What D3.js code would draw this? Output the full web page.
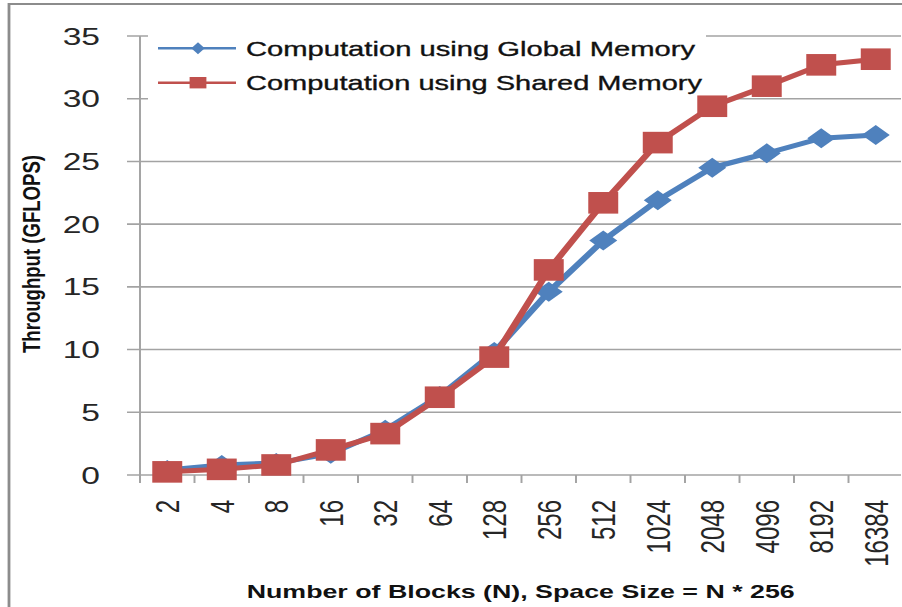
<!DOCTYPE html>
<html>
<head>
<meta charset="utf-8">
<script src="https://cdn.jsdelivr.net/npm/d3@7"></script>
<style>
body { margin:0; background:#fff; }
text { font-family:"Liberation Sans", Arial, sans-serif; }
</style>
</head>
<body>
<div id="chart"></div>
<script>
var blocks = ['2','4','8','16','32','64','128','256','512','1024','2048','4096','8192','16384']
var globalMem = [0.4,0.8,0.95,1.7,3.6,6.3,9.8,14.6,18.7,21.9,24.5,25.65,26.85,27.1]
var sharedMem = [0.25,0.45,0.8,2.0,3.3,6.2,9.4,16.35,21.7,26.5,29.4,31.0,32.7,33.15]
var yTicks = [0,5,10,15,20,25,30,35]
var seriesNames = ['Computation using Global Memory','Computation using Shared Memory']
var colors = ['#4f81bd','#c0504d']

var W = 902, H = 607
var sx = 1.4   // the whole picture is stretched sideways
var svg = d3.select('#chart').append('svg')
            .attr('width', W)
            .attr('height', H)
svg.append('rect').attr('width',W).attr('height',H).attr('fill','#fff')
var g = svg.append('g').attr('transform','scale('+sx+',1)')

var x = d3.scaleBand().domain(blocks).range([140/sx, 903/sx])
var y = d3.scaleLinear().domain([0,35]).range([475,36])
var bw = x.bandwidth()
var cx = d => x(d) + bw/2

// chart border (only left and top are in the picture)
g.append('rect')
 .attr('x',9/sx).attr('y',4).attr('width',2000).attr('height',2000)
 .attr('fill','none').attr('stroke','#8c8c8c').attr('stroke-width',2)

// gridlines
g.append('g').selectAll('line').data(yTicks).join('line')
 .attr('x1',127/sx).attr('x2',901/sx)
 .attr('y1',d=>y(d)).attr('y2',d=>y(d))
 .attr('stroke','#a3a3a3').attr('stroke-width',1.6)

// y axis line and x ticks
g.append('line')
 .attr('x1',x.range()[0]).attr('x2',x.range()[0])
 .attr('y1',y(35)).attr('y2',y(0)+8)
 .attr('stroke','#a3a3a3').attr('stroke-width',1.4)
g.append('g').selectAll('line').data(d3.range(blocks.length+1)).join('line')
 .attr('x1',i=>x.range()[0]+i*x.step()).attr('x2',i=>x.range()[0]+i*x.step())
 .attr('y1',y(0)).attr('y2',y(0)+8)
 .attr('stroke','#a3a3a3').attr('stroke-width',1.4)

// y tick labels
g.append('g').selectAll('text').data(yTicks).join('text')
 .attr('x',100/sx).attr('y',d=>y(d)).attr('dy','0.36em')
 .attr('text-anchor','end').attr('font-size',24).attr('fill','#262626')
 .text(d=>d)

// x tick labels
g.append('g').selectAll('text').data(blocks).join('text')
 .attr('transform',d=>'translate('+cx(d)+',500) rotate(-90)')
 .attr('dy','0.36em')
 .attr('text-anchor','end').attr('font-size',24).attr('fill','#262626')
 .text(d=>d)

// axis titles
g.append('text')
 .attr('transform','translate('+(40/sx)+',254) rotate(-90)')
 .attr('text-anchor','middle').attr('font-size',16.5).attr('font-weight','bold')
 .attr('textLength',198).attr('lengthAdjust','spacingAndGlyphs')
 .attr('fill','#111')
 .text('Throughput (GFLOPS)')
g.append('text')
 .attr('x',246.7/sx).attr('y',598.3)
 .attr('font-size',18.5).attr('font-weight','bold')
 .attr('textLength',548/sx).attr('lengthAdjust','spacingAndGlyphs')
 .attr('fill','#111')
 .text('Number of Blocks (N), Space Size = N * 256')

// legend background sits under the series
g.append('rect')
 .attr('x',148/sx).attr('y',28).attr('width',(706-148)/sx).attr('height',80)
 .attr('fill','#fff')

function diamond(hx,hy){ return 'M0,'+(-hy)+'L'+hx+',0L0,'+hy+'L'+(-hx)+',0Z' }

function drawSeries(vals,color,shape){
	var s = g.append('g')
	s.append('path').datum(vals)
	 .attr('d',d3.line().x((d,i)=>cx(blocks[i])).y(d=>y(d)))
	 .attr('fill','none').attr('stroke',color).attr('stroke-width',5)
	 .attr('stroke-linejoin','round')
	if(shape==='diamond'){
		s.selectAll('path.m').data(vals).join('path').attr('class','m')
		 .attr('transform',(d,i)=>'translate('+cx(blocks[i])+','+y(d)+')')
		 .attr('d',diamond(10,10)).attr('fill',color)
	}
	else {
		s.selectAll('rect').data(vals).join('rect')
		 .attr('x',(d,i)=>cx(blocks[i])-10.7).attr('y',d=>y(d)-10.8)
		 .attr('width',21.4).attr('height',21.6).attr('fill',color)
	}
}
drawSeries(globalMem,colors[0],'diamond')
drawSeries(sharedMem,colors[1],'square')

// legend
var legY = [48.3,82.7]
var legLen = [449/sx,456/sx]
seriesNames.forEach((name,i)=>{
	var lg = g.append('g')
	lg.append('line')
	  .attr('x1',158/sx).attr('x2',236/sx).attr('y1',legY[i]).attr('y2',legY[i])
	  .attr('stroke',colors[i]).attr('stroke-width',2.5)
	if(i===0){
		lg.append('path').attr('transform','translate('+(198/sx)+','+legY[i]+')')
		  .attr('d',diamond(4.8,6)).attr('fill',colors[i])
	}
	else {
		lg.append('rect').attr('x',198/sx-6).attr('y',legY[i]-5.7)
		  .attr('width',12).attr('height',11.4).attr('fill',colors[i])
	}
	lg.append('text')
	  .attr('x',246/sx).attr('y',legY[i]).attr('dy','0.36em')
	  .attr('font-size',21).attr('fill','#111')
	  .attr('stroke','#111').attr('stroke-width',0.35)
	  .attr('textLength',legLen[i]).attr('lengthAdjust','spacingAndGlyphs')
	  .text(name)
})
</script>
</body>
</html>
